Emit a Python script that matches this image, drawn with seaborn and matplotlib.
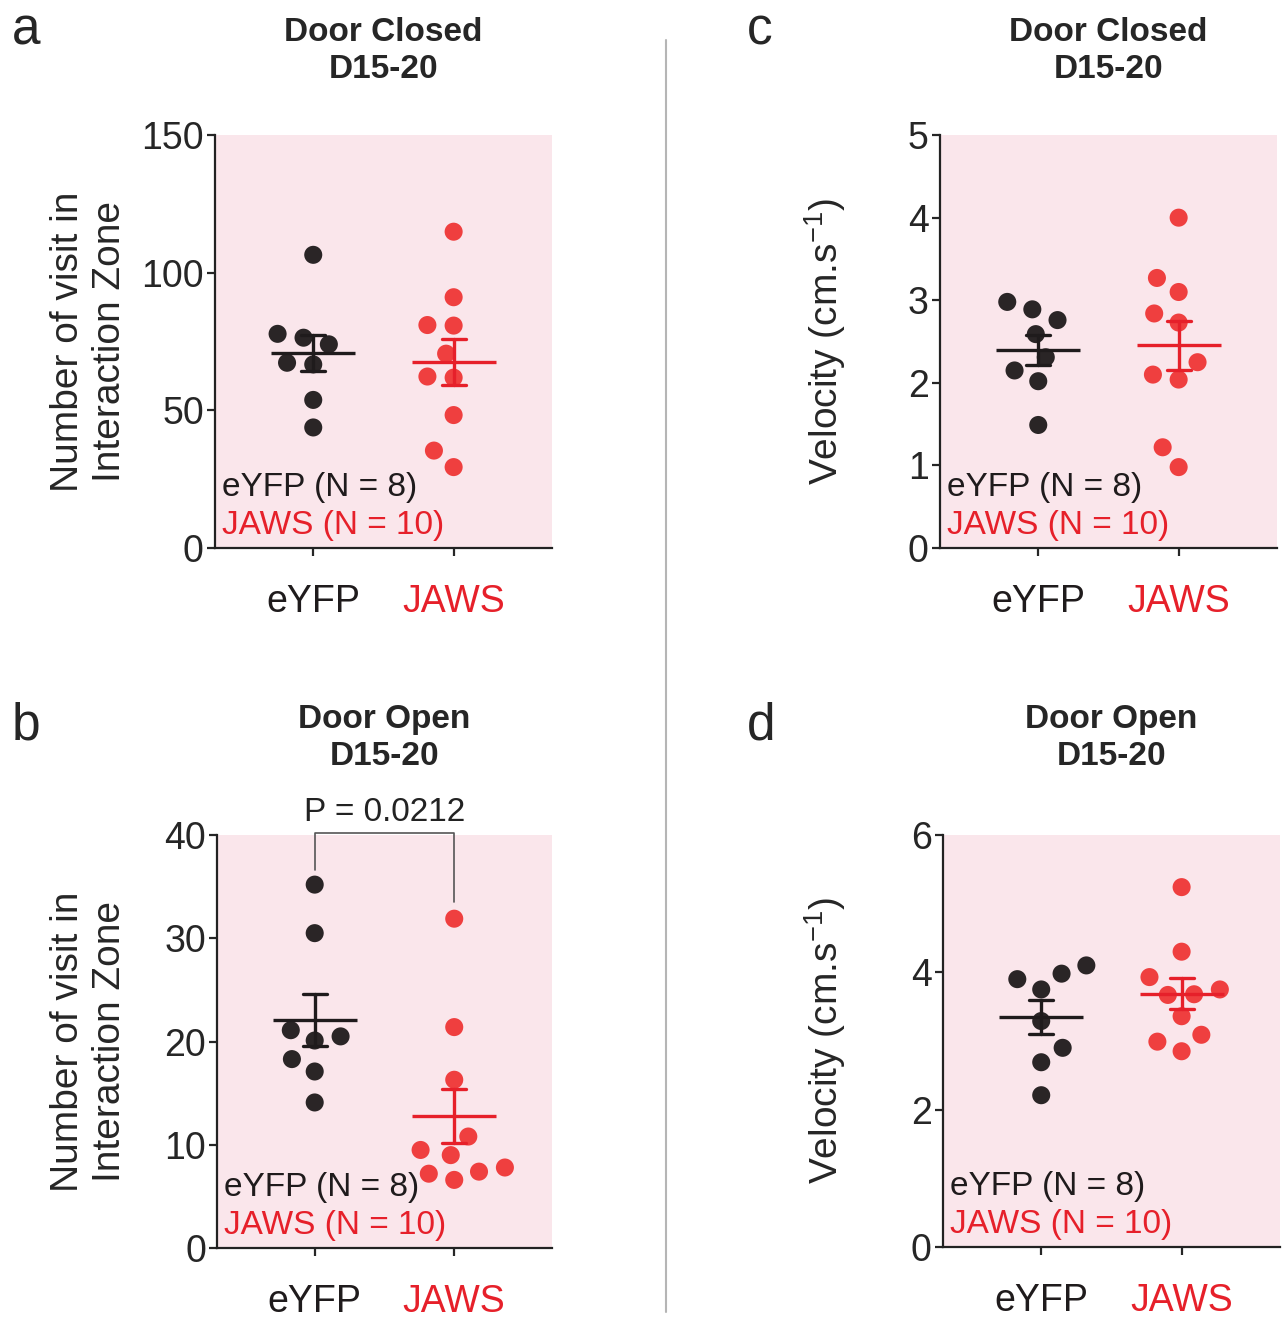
import numpy as np
import pandas as pd
import seaborn as sns
import matplotlib.pyplot as plt
from matplotlib.lines import Line2D

# values
groups = ['eYFP', 'JAWS']

visits_closed_eyfp = [106.5, 77.8, 74.0, 76.4, 66.7, 67.3, 53.8, 43.8]
visits_closed_jaws = [114.9, 91.1, 80.8, 81.0, 70.6, 62.3, 61.9, 48.3, 35.4, 29.4]

visits_open_eyfp = [35.2, 30.5, 20.5, 20.1, 21.1, 18.3, 17.1, 14.1]
visits_open_jaws = [31.9, 21.4, 16.3, 10.8, 9.5, 9.0, 7.8, 7.2, 7.4, 6.6]

velocity_closed_eyfp = [2.89, 2.98, 2.76, 2.59, 2.31, 2.15, 2.02, 1.49]
velocity_closed_jaws = [4.00, 3.27, 3.10, 2.84, 2.73, 2.25, 2.10, 2.04, 1.22, 0.98]

velocity_open_eyfp = [3.98, 4.10, 3.90, 3.75, 3.29, 2.90, 2.69, 2.21]
velocity_open_jaws = [5.24, 4.30, 3.93, 3.67, 3.68, 3.75, 3.36, 3.09, 2.99, 2.85]

p_value_text = 'P = 0.0212'

dot_colors = {'eYFP': '#2a2526', 'JAWS': '#ef3f3f'}
line_colors = {'eYFP': '#1f1b1c', 'JAWS': '#e6202a'}
pink = '#fae6eb'

sns.set_style('ticks')
plt.rcParams['font.family'] = ['Liberation Sans', 'DejaVu Sans']
plt.rcParams['mathtext.fontset'] = 'custom'
plt.rcParams['mathtext.rm'] = 'Liberation Sans'


def make_df(eyfp, jaws):
    return pd.DataFrame({'group': ['eYFP'] * len(eyfp) + ['JAWS'] * len(jaws),
                         'value': list(eyfp) + list(jaws)})


def panel(ax, df, ymax, yticks, ylabel, label_x):
    ax.set_facecolor(pink)
    # a background-coloured edge keeps the dots a little apart, like the original
    sns.swarmplot(data=df, x='group', y='value', hue='group', order=groups,
                  hue_order=groups, palette=dot_colors, size=15.5, linewidth=2.5,
                  edgecolor=pink, legend=False, ax=ax)
    sns.pointplot(data=df, x='group', y='value', hue='group', order=groups,
                  hue_order=groups, palette=line_colors, errorbar='se',
                  capsize=0.17, marker='_', markersize=60, markeredgewidth=2.4,
                  linestyle='none', err_kws={'linewidth': 2.4}, legend=False,
                  ax=ax)
    ax.set_xlim(-0.7, 1.7)
    ax.set_ylim(0, ymax)
    ax.set_yticks(yticks)
    ax.set_xlabel('')
    ax.set_ylabel(ylabel, fontsize=28, linespacing=1.2)
    ax.yaxis.set_label_coords(label_x, 0.5)
    for s in ['top', 'right']:
        ax.spines[s].set_visible(False)
    for s in ['left', 'bottom']:
        ax.spines[s].set_linewidth(1.6)
        ax.spines[s].set_color('#222222')
    ax.tick_params(axis='y', labelsize=27, length=6, width=1.6, pad=2)
    ax.tick_params(axis='x', labelsize=27, length=6, width=1.6, pad=20)
    ax.set_xticks([0, 1])
    ax.set_xticklabels(groups)
    for lab, g in zip(ax.get_xticklabels(), groups):
        lab.set_color(line_colors[g])
    ax.text(0.02, 0.125, 'eYFP (N = 8)', transform=ax.transAxes, fontsize=24,
            color=line_colors['eYFP'], va='baseline')
    ax.text(0.02, 0.035, 'JAWS (N = 10)', transform=ax.transAxes, fontsize=24,
            color=line_colors['JAWS'], va='baseline')
    for c in ax.collections:
        c.set_zorder(2)


fig = plt.figure(figsize=(12.88, 13.19), dpi=100)
ax_a = fig.add_axes([0.1669, 0.5845, 0.2616, 0.3131])
ax_c = fig.add_axes([0.7298, 0.5845, 0.2616, 0.3131])
ax_b = fig.add_axes([0.1685, 0.0538, 0.2600, 0.3131])
ax_d = fig.add_axes([0.7321, 0.0546, 0.2616, 0.3124])

visits_label = 'Number of visit in\nInteraction Zone'
velocity_label = 'Velocity (cm.s$^{\\mathregular{-1}}$)'

panel(ax_a, make_df(visits_closed_eyfp, visits_closed_jaws), 150,
      [0, 50, 100, 150], visits_label, -0.258)
panel(ax_b, make_df(visits_open_eyfp, visits_open_jaws), 40,
      [0, 10, 20, 30, 40], visits_label, -0.266)
panel(ax_c, make_df(velocity_closed_eyfp, velocity_closed_jaws), 5,
      [0, 1, 2, 3, 4, 5], velocity_label, -0.273)
panel(ax_d, make_df(velocity_open_eyfp, velocity_open_jaws), 6,
      [0, 2, 4, 6], velocity_label, -0.282)

# significance bracket in panel b
top = 40.2
ax_b.plot([0, 0, 1, 1],
          [max(visits_open_eyfp) + 1.4, top, top, max(visits_open_jaws) + 1.6],
          color='#555555', lw=1.2, clip_on=False, zorder=5)
ax_b.text(0.5, top + 0.5, p_value_text, ha='center', va='bottom', fontsize=24,
          color='#222222', clip_on=False)

# titles and panel letters
for ax, title, ytop in [(ax_a, 'Door Closed\nD15-20', 0.987),
                        (ax_c, 'Door Closed\nD15-20', 0.987),
                        (ax_b, 'Door Open\nD15-20', 0.4665),
                        (ax_d, 'Door Open\nD15-20', 0.4665)]:
    pos = ax.get_position()
    fig.text(pos.x0 + pos.width / 2, ytop, title, ha='center', va='top',
             fontsize=24, fontweight='bold', linespacing=1.25)

for letter, x, y in [('a', 0.009, 0.966), ('c', 0.580, 0.966),
                     ('b', 0.009, 0.439), ('d', 0.580, 0.439)]:
    fig.text(x, y, letter, fontsize=37, va='baseline', ha='left')

fig.add_artist(Line2D([666 / 1288, 666 / 1288], [1 - 40 / 1319, 1 - 1312 / 1319],
                      transform=fig.transFigure, color='#b5b5b5', lw=1.5))

fig.savefig('out.png', dpi=100)
